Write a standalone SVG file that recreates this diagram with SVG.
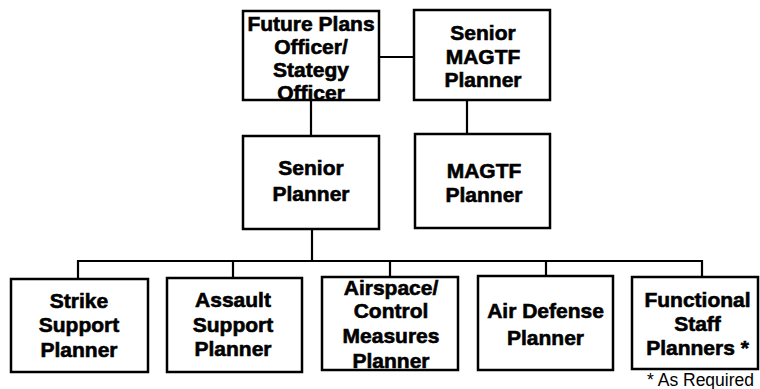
<svg xmlns="http://www.w3.org/2000/svg" width="760" height="389" viewBox="0 0 760 389">
<style>
.box{fill:#fff;stroke:#000;stroke-width:2.5}
.ln{fill:none;stroke:#000;stroke-width:2.2}
.t{font-family:"Liberation Sans",Arial,sans-serif;font-weight:bold;font-size:21px;text-anchor:middle;fill:#000;stroke:#000;stroke-width:0.6}
.n{font-family:"Liberation Sans",Arial,sans-serif;font-size:17.5px;fill:#000}
</style>
<rect width="760" height="389" fill="#fff"/>
<g id="connectors">
<path class="ln" d="M379,57 H414"/>
<path class="ln" d="M311,100 V136"/>
<path class="ln" d="M467,100 V134"/>
<path class="ln" d="M312,229 V261"/>
<path class="ln" d="M78,279 V261 H702 V277"/>
<path class="ln" d="M233,261 V278"/>
<path class="ln" d="M390,261 V277"/>
<path class="ln" d="M546,261 V276"/>
</g>
<g id="future-plans">
<rect class="box" x="243" y="11" width="136" height="89"/>
<text class="t" x="311" y="31">Future Plans</text>
<text class="t" x="311" y="54">Officer/</text>
<text class="t" x="311" y="77">Stategy</text>
<text class="t" x="311" y="100">Officer</text>
</g>
<g id="senior-magtf">
<rect class="box" x="414" y="10" width="136" height="90"/>
<text class="t" x="483" y="40">Senior</text>
<text class="t" x="483" y="64">MAGTF</text>
<text class="t" x="483" y="87">Planner</text>
</g>
<g id="senior-planner">
<rect class="box" x="243" y="136" width="136" height="93"/>
<text class="t" x="311" y="175">Senior</text>
<text class="t" x="311" y="201">Planner</text>
</g>
<g id="magtf-planner">
<rect class="box" x="415" y="134" width="135" height="94"/>
<text class="t" x="484" y="178">MAGTF</text>
<text class="t" x="484" y="202">Planner</text>
</g>
<g id="strike">
<rect class="box" x="11" y="279" width="137" height="93"/>
<text class="t" x="79" y="308">Strike</text>
<text class="t" x="79" y="332">Support</text>
<text class="t" x="79" y="357">Planner</text>
</g>
<g id="assault">
<rect class="box" x="167" y="278" width="135" height="94"/>
<text class="t" x="233" y="307">Assault</text>
<text class="t" x="233" y="332">Support</text>
<text class="t" x="233" y="356">Planner</text>
</g>
<g id="airspace">
<rect class="box" x="322" y="277" width="136" height="93"/>
<text class="t" x="391" y="295">Airspace/</text>
<text class="t" x="391" y="318">Control</text>
<text class="t" x="391" y="343">Measures</text>
<text class="t" x="391" y="368">Planner</text>
</g>
<g id="air-defense">
<rect class="box" x="478" y="276" width="135" height="94"/>
<text class="t" x="545.5" y="318">Air Defense</text>
<text class="t" x="545.5" y="345">Planner</text>
</g>
<g id="functional">
<rect class="box" x="632" y="277" width="126" height="92"/>
<text class="t" x="697.5" y="307">Functional</text>
<text class="t" x="697.5" y="331">Staff</text>
<text class="t" x="697.5" y="355">Planners *</text>
</g>
<text class="n" x="647" y="386">* As Required</text>
</svg>
